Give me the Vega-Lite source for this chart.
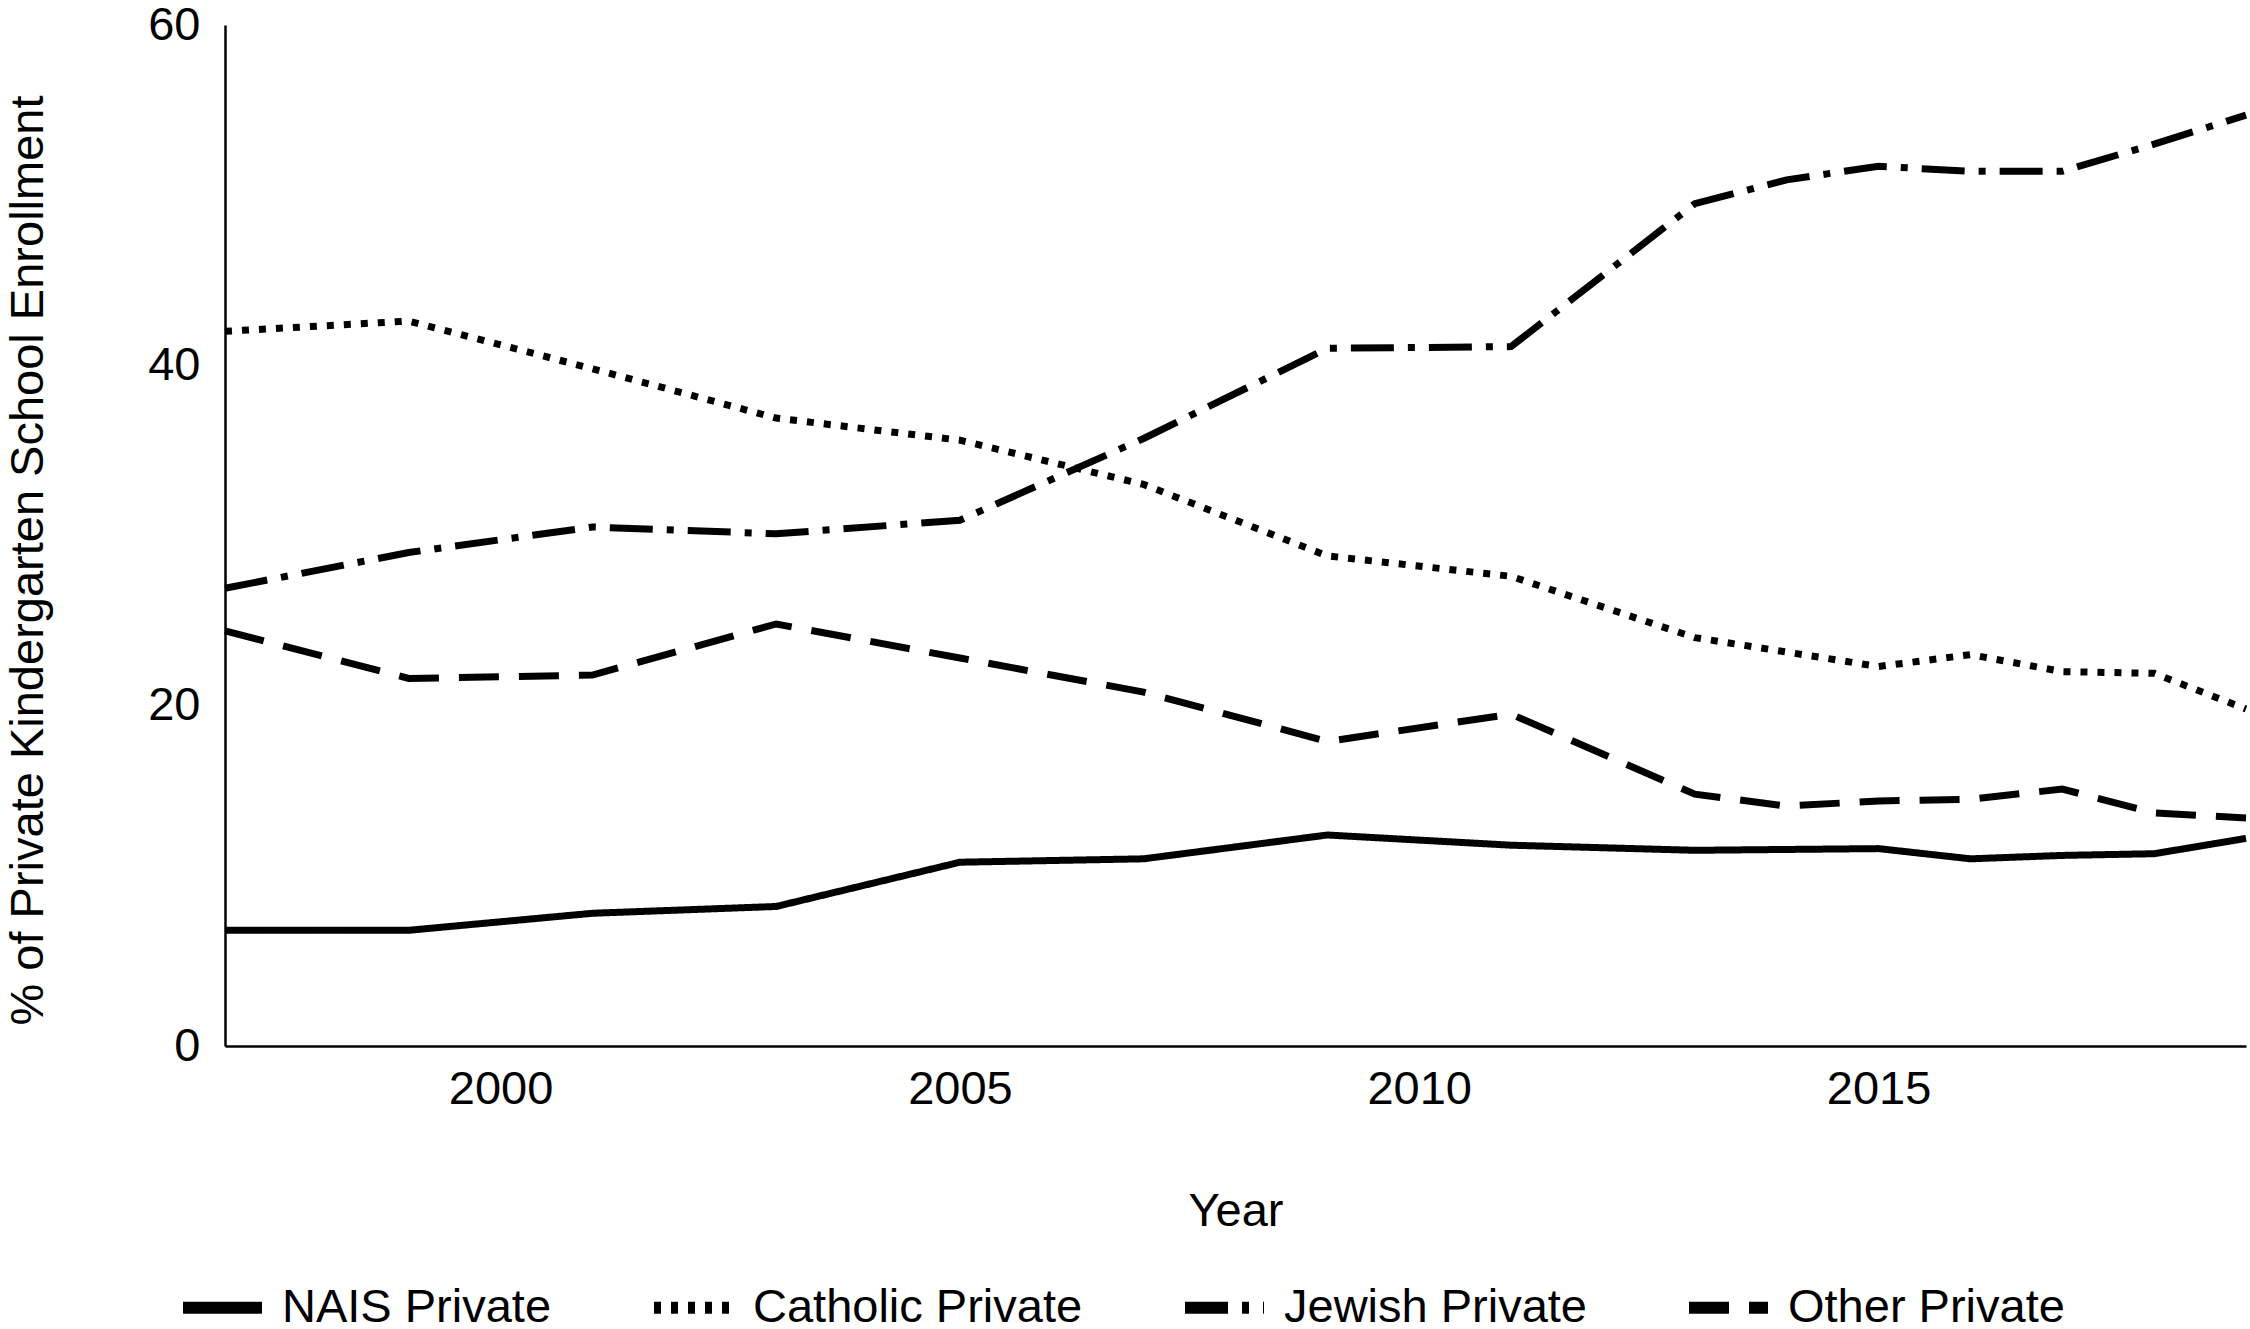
{
  "$schema": "https://vega.github.io/schema/vega-lite/v6.json",
  "background": "white",
  "autosize": "none",
  "padding": {"left": 225, "top": 25, "right": 4, "bottom": 283},
  "width": 2021,
  "height": 1021,
  "data": {
    "values": [
      {"year": 1997, "series": "NAIS Private", "pct": 6.8},
      {"year": 1999, "series": "NAIS Private", "pct": 6.8},
      {"year": 2001, "series": "NAIS Private", "pct": 7.8},
      {"year": 2003, "series": "NAIS Private", "pct": 8.2},
      {"year": 2005, "series": "NAIS Private", "pct": 10.8},
      {"year": 2007, "series": "NAIS Private", "pct": 11.0},
      {"year": 2009, "series": "NAIS Private", "pct": 12.4},
      {"year": 2011, "series": "NAIS Private", "pct": 11.8},
      {"year": 2013, "series": "NAIS Private", "pct": 11.5},
      {"year": 2015, "series": "NAIS Private", "pct": 11.6},
      {"year": 2016, "series": "NAIS Private", "pct": 11.0},
      {"year": 2017, "series": "NAIS Private", "pct": 11.2},
      {"year": 2018, "series": "NAIS Private", "pct": 11.3},
      {"year": 2019, "series": "NAIS Private", "pct": 12.2},
      {"year": 1997, "series": "Catholic Private", "pct": 42.0},
      {"year": 1999, "series": "Catholic Private", "pct": 42.6},
      {"year": 2001, "series": "Catholic Private", "pct": 39.8},
      {"year": 2003, "series": "Catholic Private", "pct": 36.9},
      {"year": 2005, "series": "Catholic Private", "pct": 35.6},
      {"year": 2007, "series": "Catholic Private", "pct": 33.0},
      {"year": 2009, "series": "Catholic Private", "pct": 28.8},
      {"year": 2011, "series": "Catholic Private", "pct": 27.6},
      {"year": 2013, "series": "Catholic Private", "pct": 24.0},
      {"year": 2015, "series": "Catholic Private", "pct": 22.3},
      {"year": 2016, "series": "Catholic Private", "pct": 23.0},
      {"year": 2017, "series": "Catholic Private", "pct": 22.0},
      {"year": 2018, "series": "Catholic Private", "pct": 21.9},
      {"year": 2019, "series": "Catholic Private", "pct": 19.8},
      {"year": 1997, "series": "Jewish Private", "pct": 26.9},
      {"year": 1999, "series": "Jewish Private", "pct": 29.0},
      {"year": 2001, "series": "Jewish Private", "pct": 30.5},
      {"year": 2003, "series": "Jewish Private", "pct": 30.1},
      {"year": 2005, "series": "Jewish Private", "pct": 30.9},
      {"year": 2007, "series": "Jewish Private", "pct": 35.7},
      {"year": 2009, "series": "Jewish Private", "pct": 41.0},
      {"year": 2011, "series": "Jewish Private", "pct": 41.1},
      {"year": 2013, "series": "Jewish Private", "pct": 49.5},
      {"year": 2014, "series": "Jewish Private", "pct": 50.9},
      {"year": 2015, "series": "Jewish Private", "pct": 51.7},
      {"year": 2016, "series": "Jewish Private", "pct": 51.4},
      {"year": 2017, "series": "Jewish Private", "pct": 51.4},
      {"year": 2018, "series": "Jewish Private", "pct": 53.0},
      {"year": 2019, "series": "Jewish Private", "pct": 54.7},
      {"year": 1997, "series": "Other Private", "pct": 24.4},
      {"year": 1999, "series": "Other Private", "pct": 21.6},
      {"year": 2001, "series": "Other Private", "pct": 21.8},
      {"year": 2003, "series": "Other Private", "pct": 24.8},
      {"year": 2005, "series": "Other Private", "pct": 22.8},
      {"year": 2007, "series": "Other Private", "pct": 20.8},
      {"year": 2009, "series": "Other Private", "pct": 17.9},
      {"year": 2011, "series": "Other Private", "pct": 19.5},
      {"year": 2013, "series": "Other Private", "pct": 14.8},
      {"year": 2014, "series": "Other Private", "pct": 14.1},
      {"year": 2015, "series": "Other Private", "pct": 14.4},
      {"year": 2016, "series": "Other Private", "pct": 14.5},
      {"year": 2017, "series": "Other Private", "pct": 15.1},
      {"year": 2018, "series": "Other Private", "pct": 13.7},
      {"year": 2019, "series": "Other Private", "pct": 13.4}
    ]
  },
  "mark": {"type": "line", "color": "black", "strokeWidth": 7, "strokeCap": "butt", "strokeJoin": "miter"},
  "encoding": {
    "x": {
      "field": "year",
      "type": "quantitative",
      "scale": {"domain": [1997, 2019], "nice": false, "zero": false},
      "axis": {"values": [2000, 2005, 2010, 2015], "format": "d", "title": "Year", "titlePadding": 76, "labelPadding": 20}
    },
    "y": {
      "field": "pct",
      "type": "quantitative",
      "scale": {"domain": [0, 60], "nice": false},
      "axis": {"values": [0, 20, 40, 60], "title": "% of Private Kindergarten School Enrollment", "titlePadding": 95, "titleY": 535, "labelPadding": 25}
    },
    "strokeDash": {
      "field": "series",
      "type": "nominal",
      "scale": {
        "domain": ["NAIS Private", "Catholic Private", "Jewish Private", "Other Private"],
        "range": [[1, 0], [7, 10], [43, 14, 7, 14], [40, 20]]
      },
      "legend": {
        "title": null,
        "orient": "none",
        "direction": "horizontal",
        "legendX": -48,
        "legendY": 1237,
        "symbolType": "stroke",
        "symbolStrokeWidth": 12,
        "symbolStrokeColor": "black",
        "symbolSize": 6241,
        "labelFontSize": 47,
        "labelLimit": 0,
        "labelOffset": 14,
        "columnPadding": 78
      }
    }
  },
  "config": {
    "font": "Liberation Sans",
    "view": {"stroke": null},
    "axis": {
      "grid": false,
      "ticks": false,
      "domainColor": "black",
      "domainWidth": 2.5,
      "labelColor": "black",
      "titleColor": "black",
      "labelFontSize": 47,
      "titleFontSize": 47,
      "titleFontWeight": "normal"
    },
    "legend": {"labelColor": "black"}
  }
}
